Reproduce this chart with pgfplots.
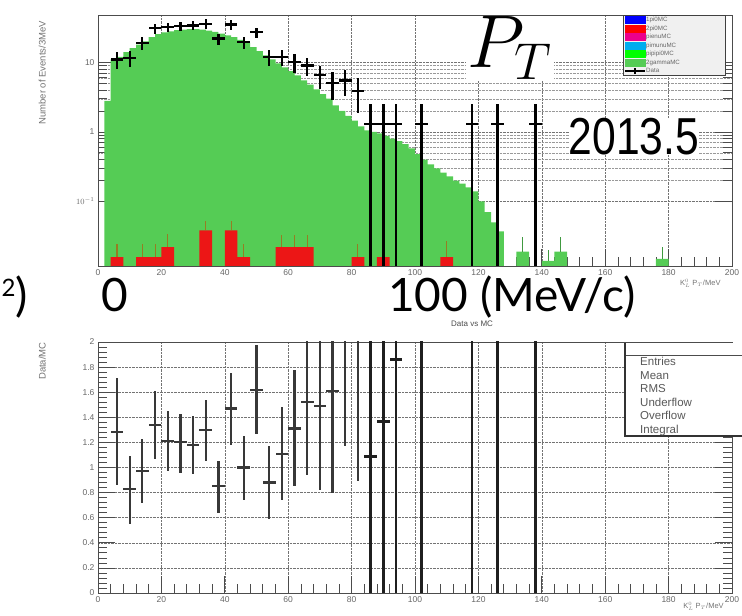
\documentclass[border=0pt]{standalone}
\usepackage{pgfplots}
\pgfplotsset{compat=1.18}
\usepackage{fontspec}
\setmainfont{Liberation Sans}
\newfontfamily\latofont{Lato}
\definecolor{hgreen}{RGB}{85,204,85}
\definecolor{hred}{RGB}{236,22,22}
\definecolor{errolive}{RGB}{150,125,35}
\definecolor{tickgray}{gray}{0.4}

\pgfplotsset{
  rootaxis/.style={
    scale only axis, width=634pt, height=251pt,
    xmin=0, xmax=200,
    xtick={0,20,40,60,80,100,120,140,160,180,200},
    minor x tick num=4,
    xtick pos=bottom,
    tick align=inside,
    major tick length=17pt, minor tick length=9pt,
    axis line style={black!70, line width=0.7pt},
    tick style={black!70, line width=0.7pt},
    major grid style={densely dotted, black!55, line width=0.5pt},
    minor grid style={densely dotted, black!40, line width=0.4pt},
    ticklabel style={font=\fontsize{8.5}{9}\selectfont, text=tickgray},
    /pgf/number format/assume math mode=true,
    label style={font=\fontsize{9.5}{10}\selectfont, text=black!55},
  }
}

\begin{document}
\begin{tikzpicture}
\useasboundingbox (0pt,0pt) rectangle (742pt,616pt);

% ---------------- top panel ----------------
\begin{axis}[rootaxis, at={(98pt,350pt)}, anchor=south west,
  ymode=log, ymin=0.0118, ymax=48,
  ytick={0.1,1,10}, yticklabels={$10^{-1}$,1,10},
  grid=both, xminorgrids=false,
  ylabel={Number of Events/3MeV},
  ylabel style={at={(axis description cs:-0.088,0.77)}, anchor=center},
  xlabel={K$^{0}_{L}$ P$_{T}$/MeV},
  xlabel style={at={(axis description cs:0.95,-0.068)}, anchor=center, font=\fontsize{7.5}{8}\selectfont},
  legend style={at={(0.828,1)}, anchor=north west, fill=black!6, draw=black!75, line width=0.9pt,
    font=\fontsize{6.2}{6.5}\selectfont, text=black!60, inner sep=1pt, row sep=0.8pt,
    nodes={inner sep=0.6pt}},
  legend cell align=left,
]
\addlegendimage{legend image code/.code={\fill[blue] (0pt,-3.4pt) rectangle (20pt,3.4pt);}}
\addlegendentry{\makebox[78pt][l]{1pi0MC}}
\addlegendimage{legend image code/.code={\fill[red] (0pt,-3.4pt) rectangle (20pt,3.4pt);}}
\addlegendentry{\makebox[78pt][l]{2pi0MC}}
\addlegendimage{legend image code/.code={\fill[magenta] (0pt,-3.4pt) rectangle (20pt,3.4pt);}}
\addlegendentry{\makebox[78pt][l]{pienuMC}}
\addlegendimage{legend image code/.code={\fill[cyan] (0pt,-3.4pt) rectangle (20pt,3.4pt);}}
\addlegendentry{\makebox[78pt][l]{pimunuMC}}
\addlegendimage{legend image code/.code={\fill[green] (0pt,-3.4pt) rectangle (20pt,3.4pt);}}
\addlegendentry{\makebox[78pt][l]{pipipi0MC}}
\addlegendimage{legend image code/.code={\fill[hgreen] (0pt,-3.4pt) rectangle (20pt,3.4pt);}}
\addlegendentry{\makebox[78pt][l]{2gammaMC}}
\addlegendimage{legend image code/.code={\draw[black,line width=1.2pt] (0pt,0pt) -- (20pt,0pt); \draw[black,line width=1.2pt] (10pt,-3pt) -- (10pt,3pt);}}
\addlegendentry{\makebox[78pt][l]{Data}}

% 2gammaMC stacked histogram
\addplot[const plot mark left, fill=hgreen, draw=none, forget plot] coordinates {
(2,0.001) (2,2.8) (4,11) (6,12) (8,14) (10,16) (12,18) (14,20) (16,23) (18,25.5)
(20,27) (22,28) (24,29) (26,29.5) (28,30) (30,30) (32,29.5) (34,28.5) (36,27.5) (38,26)
(40,24.5) (42,23) (44,21) (46,19) (48,16.5) (50,14.5) (52,12.6) (54,11) (56,9.7) (58,8.5)
(60,7.5) (62,6.5) (64,5.5) (66,4.8) (68,4.1) (70,3.5) (72,3.0) (74,2.4) (76,2.0) (78,1.7)
(80,1.45) (82,1.2) (84,1.05) (86,1.0) (88,0.95) (90,0.88) (92,0.8) (94,0.74) (96,0.67) (98,0.58)
(100,0.48) (102,0.4) (104,0.34) (106,0.3) (108,0.26) (110,0.23) (112,0.2) (114,0.18) (116,0.16) (118,0.14)
(120,0.1) (122,0.07) (124,0.05) (126,0.037) (128,0.001) (132,0.019) (136,0.001)
(140,0.014) (144,0.019) (148,0.001) (176,0.015) (180,0.001)};
\addplot[draw=none, forget plot, error bars/.cd, y dir=plus, y explicit, error mark=none,
  error bar style={draw=hgreen!75!black, line width=0.8pt}] coordinates {
(134,0.019) +- (0,0.012) (142,0.014) +- (0,0.006) (146,0.019) +- (0,0.012) (178,0.015) +- (0,0.007)};

% 2pi0MC histogram
\addplot[const plot mark left, fill=hred, draw=none, forget plot] coordinates {
(4,0.001) (4,0.0158) (8,0.001) (12,0.0158) (20,0.022) (24,0.001) (32,0.0385) (36,0.001)
(40,0.0385) (44,0.0158) (48,0.001) (56,0.022) (68,0.001) (80,0.0158) (84,0.001)
(88,0.0158) (92,0.001) (108,0.0158) (112,0.001)};
\addplot[draw=none, forget plot, error bars/.cd, y dir=plus, y explicit, error mark=none,
  error bar style={draw=errolive, line width=1.1pt}] coordinates {
(6,0.0158) +- (0,0.009) (14,0.0158) +- (0,0.009) (18,0.0158) +- (0,0.009) (22,0.022) +- (0,0.012)
(34,0.0385) +- (0,0.014) (42,0.0385) +- (0,0.014) (46,0.0158) +- (0,0.009)
(58,0.022) +- (0,0.011) (62,0.022) +- (0,0.011) (66,0.022) +- (0,0.011)
(82,0.0158) +- (0,0.009) (90,0.0158) +- (0,0.009) (110,0.0158) +- (0,0.011)};

% Data
\addplot[draw=none, forget plot, error bars/.cd, x dir=both, x explicit, y dir=both, y explicit,
  error mark=none, error bar style={draw=black, line width=2.2pt}] coordinates {
(6,11) +- (2,3) (10,11.5) +- (2,3) (14,19) +- (2,4) (18,31) +- (2,5) (22,32) +- (2,5)
(26,33) +- (2,5) (30,34) +- (2,5) (34,36) +- (2,5.5) (38,22) +- (2,4) (42,35) +- (2,5.5)
(46,19.5) +- (2,4) (50,27) +- (2,4.5) (54,12) +- (2,3) (58,12) +- (2,3) (62,10) +- (2,3)
(66,9) +- (2,2.7) (70,6.5) +- (2,2.3) (74,5.1) +- (2,2.2) (78,5.5) +- (2,2.2) (82,3.9) +- (2,2)};
\addplot[draw=none, forget plot, error bars/.cd, x dir=both, x explicit, y dir=both, y explicit,
  error mark=none, error bar style={draw=black, line width=2.6pt}] coordinates {
(86,1.3) += (2,1.2) -= (2,1.29) (90,1.3) += (2,1.2) -= (2,1.29) (94,1.3) += (2,1.2) -= (2,1.29)
(102,1.3) += (2,1.2) -= (2,1.29) (118,1.3) += (2,1.2) -= (2,1.29) (126,1.3) += (2,1.2) -= (2,1.29)
(138,1.3) += (2,1.2) -= (2,1.29)};
\end{axis}

% ---------------- bottom panel ----------------
\begin{axis}[rootaxis, at={(98pt,23pt)}, anchor=south west,
  ymin=0, ymax=2,
  ytick={0,0.2,0.4,0.6,0.8,1,1.2,1.4,1.6,1.8,2},
  yticklabels={0,0.2,0.4,0.6,0.8,1,1.2,1.4,1.6,1.8,2},
  minor y tick num=4,
  grid=major,
  ylabel={Data/MC},
  ylabel style={at={(axis description cs:-0.088,0.924)}, anchor=center},
  xlabel={K$^{0}_{L}$ P$_{T}$/MeV},
  xlabel style={at={(axis description cs:0.955,-0.052)}, anchor=center, font=\fontsize{7.5}{8}\selectfont},
  title={Data vs MC},
  title style={at={(axis description cs:0.59,1.05)}, anchor=center, font=\fontsize{8}{9}\selectfont, text=black!70},
]
\addplot[draw=none, error bars/.cd, x dir=both, x explicit, y dir=both, y explicit,
  error mark=none, error bar style={draw=black!78, line width=2.2pt}] coordinates {
(6,1.285) += (2,0.425) -= (2,0.425) (10,0.83) += (2,0.26) -= (2,0.28) (14,0.975) += (2,0.255) -= (2,0.255)
(18,1.34) += (2,0.27) -= (2,0.27) (22,1.21) += (2,0.24) -= (2,0.24) (26,1.2) += (2,0.23) -= (2,0.24)
(30,1.18) += (2,0.23) -= (2,0.23) (34,1.3) += (2,0.24) -= (2,0.25) (38,0.85) += (2,0.2) -= (2,0.21)
(42,1.47) += (2,0.28) -= (2,0.29) (46,1.0) += (2,0.25) -= (2,0.26) (50,1.62) += (2,0.36) -= (2,0.35)
(54,0.88) += (2,0.29) -= (2,0.29) (58,1.11) += (2,0.37) -= (2,0.37) (62,1.31) += (2,0.47) -= (2,0.46)
(66,1.52) += (2,0.6) -= (2,0.58) (70,1.49) += (2,0.67) -= (2,0.67) (74,1.61) += (2,0.8) -= (2,0.81)
(78,2.5) += (2,1.3) -= (2,1.33) (82,2.3) += (2,1.4) -= (2,1.41)};
\addplot[draw=none, error bars/.cd, x dir=both, x explicit, y dir=both, y explicit,
  error mark=none, error bar style={draw=black!88, line width=2.6pt}] coordinates {
(86,1.09) += (2,1.5) -= (2,1.5) (90,1.365) += (2,1.5) -= (2,1.5) (94,1.86) += (2,1.9) -= (2,1.9)
(102,2.5) += (2,2.5) -= (2,2.5) (118,2.5) += (2,2.5) -= (2,2.5) (126,2.5) += (2,2.5) -= (2,2.5)
(138,2.5) += (2,2.5) -= (2,2.5)};
\end{axis}

% stats box of the ratio panel
\fill[white] (625pt,180pt) rectangle (760pt,273pt);
\draw[black!70, line width=0.6pt] (625pt,261pt) -- (760pt,261pt);
\draw[black!80, line width=1.6pt] (625pt,273pt) -- (625pt,180pt) -- (760pt,180pt);
\node[anchor=north west, align=left, inner sep=0pt, text=black!65,
  font=\fontsize{11.5}{13.6}\selectfont] at (640pt,259pt) {Entries\\Mean\\RMS\\Underflow\\Overflow\\Integral};

% overlaid texts
\node[fill=white, inner sep=1pt] at (510pt,568pt) {\scalebox{3}{\fontsize{24}{24}\selectfont $P_T$}};
\node[fill=white, inner sep=0pt, xscale=0.82, font=\fontsize{52}{52}\selectfont] at (634pt,479pt) {2013.5};
\node[anchor=base east, inner sep=0pt, font=\latofont\fontsize{46}{46}\selectfont] at (28pt,304pt) {\raisebox{15pt}{\fontsize{24}{24}\selectfont 2})};
\node[anchor=base, inner sep=0pt, font=\latofont\fontsize{46}{46}\selectfont] at (115pt,304pt) {0};
\node[anchor=base west, inner sep=0pt, font=\latofont\fontsize{46}{46}\selectfont] at (388pt,304pt) {100 (MeV/c)};
\end{tikzpicture}
\end{document}
